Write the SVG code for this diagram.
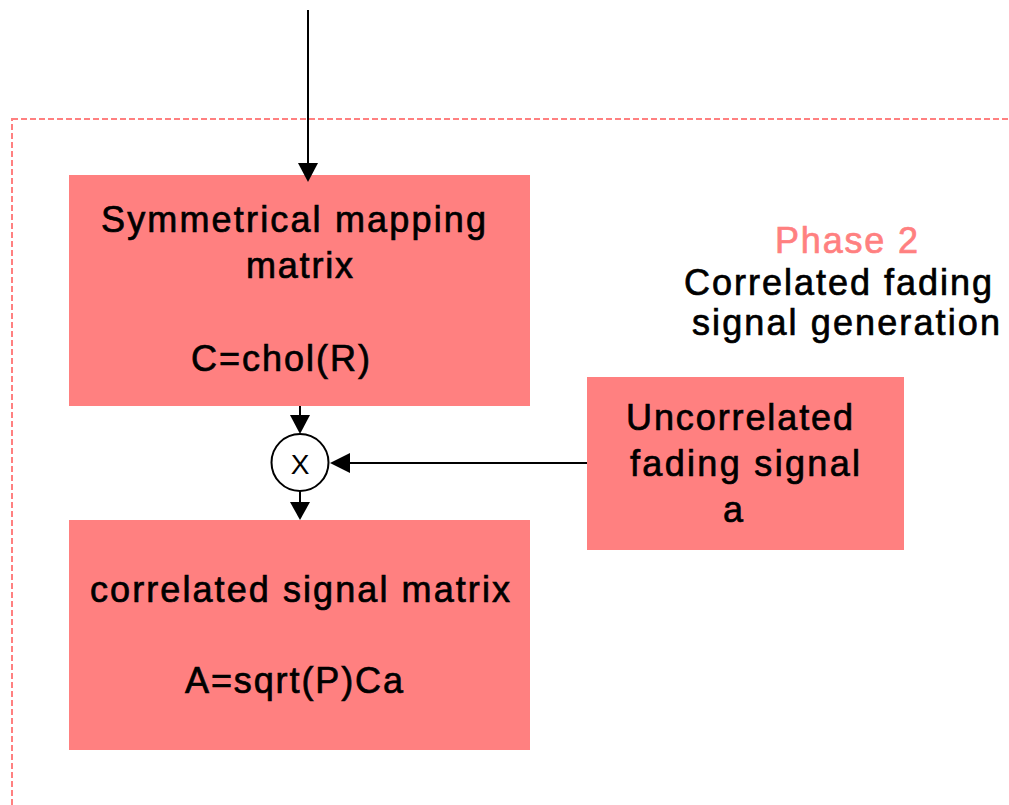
<svg xmlns="http://www.w3.org/2000/svg" width="1009" height="805" viewBox="0 0 1009 805">
<style>
.box{fill:#FF8080;stroke:none}
.t{font-family:"Liberation Sans",Arial,sans-serif;font-size:36px;fill:#000;stroke:#000;stroke-width:0.7}
.ph{fill:#FF8080;stroke:#FF8080}
.ln{stroke:#000;stroke-width:2;fill:none}
</style>
<rect width="1009" height="805" fill="#fff"/>
<g id="phase-border">
<rect x="12" y="119" width="1100" height="800" fill="none" stroke="#FF8080" stroke-width="2" stroke-dasharray="6,3"/>
</g>
<g id="phase-label">
<text class="t ph" x="775" y="253" textLength="143" lengthAdjust="spacing">Phase 2</text>
<text class="t" x="684" y="295" textLength="308" lengthAdjust="spacing">Correlated fading</text>
<text class="t" x="692" y="335" textLength="308" lengthAdjust="spacing">signal generation</text>
</g>
<g id="node-mapping">
<rect class="box" x="69" y="175" width="461" height="231"/>
<text class="t" x="101" y="232" textLength="385" lengthAdjust="spacing">Symmetrical mapping</text>
<text class="t" x="246" y="278" textLength="107" lengthAdjust="spacing">matrix</text>
<text class="t" x="191" y="371" textLength="179" lengthAdjust="spacing">C=chol(R)</text>
</g>
<g id="node-multiply">
<circle cx="300" cy="462.5" r="28.5" fill="#fff" stroke="#000" stroke-width="2"/>
<text x="300" y="473.5" text-anchor="middle" font-family="'Liberation Sans',Arial,sans-serif" font-size="28" fill="#000">X</text>
</g>
<g id="node-result">
<rect class="box" x="69" y="520" width="461" height="230"/>
<text class="t" x="90" y="602" textLength="420" lengthAdjust="spacing">correlated signal matrix</text>
<text class="t" x="185" y="693" textLength="218" lengthAdjust="spacing">A=sqrt(P)Ca</text>
</g>
<g id="node-uncorrelated">
<rect class="box" x="587" y="377" width="317" height="173"/>
<text class="t" x="626" y="430" textLength="227" lengthAdjust="spacing">Uncorrelated</text>
<text class="t" x="630" y="476" textLength="230" lengthAdjust="spacing">fading signal</text>
<text class="t" x="723" y="522" textLength="21" lengthAdjust="spacing">a</text>
</g>
<g id="connectors">
<line class="ln" x1="308" y1="10" x2="308" y2="165"/>
<path d="M298,163 L318,163 L308,182 Z" fill="#000"/>
<line class="ln" x1="300" y1="406" x2="300" y2="417"/>
<path d="M290,415 L310,415 L300,434 Z" fill="#000"/>
<line class="ln" x1="300" y1="491" x2="300" y2="504"/>
<path d="M290,502 L310,502 L300,520 Z" fill="#000"/>
<line class="ln" x1="587" y1="463" x2="348" y2="463"/>
<path d="M350,453 L350,473 L330,463 Z" fill="#000"/>
</g>
</svg>
